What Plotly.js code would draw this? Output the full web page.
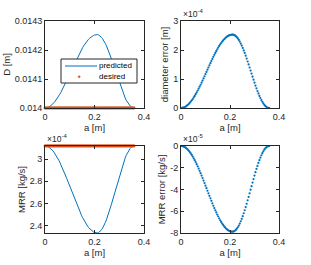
<!DOCTYPE html>
<html>
<head>
<meta charset="utf-8">
<script src="https://cdn.plot.ly/plotly-3.0.1.min.js"></script>
<style>html,body{margin:0;padding:0;background:#fff}#chart{width:311px;height:265px}</style>
</head>
<body>
<div id="chart"></div>
<script>
// position along workpiece a [m]
const a = [0,0.004,0.008,0.012,0.016,0.02,0.024,0.028,0.032,0.036,
0.04,0.044,0.048,0.052,0.056,0.06,0.064,0.068,0.072,0.076,
0.08,0.084,0.088,0.092,0.096,0.1,0.104,0.108,0.112,0.116,
0.12,0.124,0.128,0.132,0.136,0.14,0.144,0.148,0.152,0.156,
0.16,0.164,0.168,0.172,0.176,0.18,0.184,0.188,0.192,0.196,
0.2,0.204,0.208,0.212,0.216,0.22,0.224,0.228,0.232,0.236,
0.24,0.244,0.248,0.252,0.256,0.26,0.264,0.268,0.272,0.276,
0.28,0.284,0.288,0.292,0.296,0.3,0.304,0.308,0.312,0.316,
0.32,0.324,0.328,0.332,0.336,0.34,0.344,0.348,0.352,0.356,
0.36];

// predicted diameter D [m]
const predictedD = [0.014,0.0140003,0.014001,0.014002,0.0140035,0.0140056,0.0140081,0.0140109,0.0140142,0.014018,
0.014022,0.0140263,0.0140311,0.0140364,0.0140417,0.0140476,0.0140536,0.01406,0.0140665,0.0140734,
0.0140802,0.0140873,0.0140946,0.014102,0.0141095,0.0141171,0.0141245,0.0141321,0.0141397,0.0141472,
0.0141546,0.0141619,0.0141693,0.0141763,0.0141832,0.0141898,0.0141961,0.0142024,0.0142082,0.014214,
0.0142194,0.0142242,0.014229,0.014233,0.0142371,0.0142404,0.0142436,0.0142462,0.0142484,0.0142502,
0.0142515,0.0142525,0.014253,
0.014253,0.014252,0.0142502,0.0142477,0.0142441,0.0142398,0.0142348,0.014229,0.0142221,0.0142151,
0.0142072,0.0141986,0.0141898,0.0141804,0.0141705,0.0141604,0.0141503,0.0141397,0.014129,0.0141187,
0.014108,0.0140977,0.0140873,0.0140774,0.0140678,0.0140587,0.0140501,0.0140417,0.0140344,0.0140273,
0.0140213,0.0140157,0.0140109,0.0140071,0.014004,0.0140018,0.0140005,0.014];

// desired diameter D [m]
const desiredD = [0.014,0.014,0.014,0.014,0.014,0.014,0.014,0.014,0.014,0.014,
0.014,0.014,0.014,0.014,0.014,0.014,0.014,0.014,0.014,0.014,
0.014,0.014,0.014,0.014,0.014,0.014,0.014,0.014,0.014,0.014,
0.014,0.014,0.014,0.014,0.014,0.014,0.014,0.014,0.014,0.014,
0.014,0.014,0.014,0.014,0.014,0.014,0.014,0.014,0.014,0.014,
0.014,0.014,0.014,0.014,0.014,0.014,0.014,0.014,0.014,0.014,
0.014,0.014,0.014,0.014,0.014,0.014,0.014,0.014,0.014,0.014,
0.014,0.014,0.014,0.014,0.014,0.014,0.014,0.014,0.014,0.014,
0.014,0.014,0.014,0.014,0.014,0.014,0.014,0.014,0.014,0.014,
0.014];

// diameter error [x1e-4 m]
const diameterError = [0,0.003,0.010,0.020,0.035,0.056,0.081,0.109,0.142,0.180,
0.220,0.263,0.311,0.364,0.417,0.476,0.536,0.600,0.665,0.734,
0.802,0.873,0.946,1.020,1.095,1.171,1.245,1.321,1.397,1.472,
1.546,1.619,1.693,1.763,1.832,1.898,1.961,2.024,2.082,2.140,
2.194,2.242,2.290,2.330,2.371,2.404,2.436,2.462,2.484,2.502,
2.515,2.525,2.530,
2.530,2.520,2.502,2.477,2.441,2.398,2.348,2.290,2.221,2.151,
2.072,1.986,1.898,1.804,1.705,1.604,1.503,1.397,1.290,1.187,
1.080,0.977,0.873,0.774,0.678,0.587,0.501,0.417,0.344,0.273,
0.213,0.157,0.109,0.071,0.040,0.018,0.005,0];

// predicted MRR [x1e-4 kg/s]
const predictedMRR = [3.12,3.1192,3.1168,3.1137,3.109,3.1027,3.0948,3.0861,3.0759,3.0641,
3.0514,3.038,3.0231,3.0065,2.99,2.9719,2.9529,2.9332,2.9128,2.8915,
2.8702,2.8481,2.8253,2.8024,2.7788,2.7552,2.7323,2.7087,2.685,2.6614,
2.6385,2.6157,2.5928,2.5708,2.5495,2.529,2.5093,2.4896,2.4715,2.4534,
2.4368,2.4218,2.4069,2.3943,2.3816,2.3714,2.3612,2.3533,2.3462,2.3407,
2.3367,2.3336,2.332,
2.332,2.3352,2.3407,2.3485,2.3596,2.373,2.3887,2.4069,2.4281,2.4502,
2.4746,2.5014,2.529,2.5582,2.5889,2.6204,2.6519,2.685,2.7181,2.7504,
2.7835,2.8158,2.8481,2.8789,2.9088,2.9372,2.964,2.99,3.0128,3.0349,
3.0538,3.0711,3.0861,3.0979,3.1074,3.1145,3.1184,3.12];

// desired MRR [x1e-4 kg/s]
const desiredMRR = [3.12,3.12,3.12,3.12,3.12,3.12,3.12,3.12,3.12,3.12,
3.12,3.12,3.12,3.12,3.12,3.12,3.12,3.12,3.12,3.12,
3.12,3.12,3.12,3.12,3.12,3.12,3.12,3.12,3.12,3.12,
3.12,3.12,3.12,3.12,3.12,3.12,3.12,3.12,3.12,3.12,
3.12,3.12,3.12,3.12,3.12,3.12,3.12,3.12,3.12,3.12,
3.12,3.12,3.12,3.12,3.12,3.12,3.12,3.12,3.12,3.12,
3.12,3.12,3.12,3.12,3.12,3.12,3.12,3.12,3.12,3.12,
3.12,3.12,3.12,3.12,3.12,3.12,3.12,3.12,3.12,3.12,
3.12,3.12,3.12,3.12,3.12,3.12,3.12,3.12,3.12,3.12,
3.12];

// MRR error [x1e-5 kg/s]
const mrrError = [0,-0.008,-0.032,-0.063,-0.110,-0.173,-0.252,-0.339,-0.441,-0.559,
-0.686,-0.820,-0.969,-1.135,-1.300,-1.481,-1.671,-1.868,-2.072,-2.285,
-2.498,-2.719,-2.947,-3.176,-3.412,-3.648,-3.877,-4.113,-4.350,-4.586,
-4.815,-5.043,-5.272,-5.492,-5.705,-5.910,-6.107,-6.304,-6.485,-6.666,
-6.832,-6.982,-7.131,-7.257,-7.384,-7.486,-7.588,-7.667,-7.738,-7.793,
-7.833,-7.864,-7.880,
-7.880,-7.848,-7.793,-7.715,-7.604,-7.470,-7.313,-7.131,-6.919,-6.698,
-6.454,-6.186,-5.910,-5.618,-5.311,-4.996,-4.681,-4.350,-4.019,-3.696,
-3.365,-3.042,-2.719,-2.411,-2.112,-1.828,-1.560,-1.300,-1.072,-0.851,
-0.662,-0.489,-0.339,-0.221,-0.126,-0.055,-0.016,0];

// tick labels
const aTicks = [0, 0.2, 0.4];
const aTickText = ['0', '0.2', '0.4'];
const dTicks = [0.014, 0.0141, 0.0142, 0.0143];
const dTickText = ['0.014', '0.0141', '0.0142', '0.0143'];
const dErrTicks = [0, 1, 2, 3];
const dErrTickText = ['0', '1', '2', '3'];
const mrrTicks = [2.4, 2.6, 2.8, 3];
const mrrTickText = ['2.4', '2.6', '2.8', '3'];
const mrrErrTicks = [-8, -6, -4, -2, 0];
const mrrErrTickText = ['-8', '-6', '-4', '-2', '0'];
const legendNames = ['predicted', 'desired'];

const BLUE = '#0072BD', ORANGE = '#D95319', AX = '#262626';
const FONT = 'Liberation Sans, Arial, sans-serif';

const traces = [
  {x: a, y: predictedD, xaxis: 'x', yaxis: 'y', mode: 'lines', name: legendNames[0],
   line: {color: BLUE, width: 1}},
  {x: a, y: desiredD, xaxis: 'x', yaxis: 'y', mode: 'markers', name: legendNames[1],
   marker: {color: ORANGE, size: 2.8}, cliponaxis: false},
  {x: a, y: diameterError, xaxis: 'x2', yaxis: 'y2', mode: 'markers', name: 'diameter error',
   marker: {color: BLUE, size: 2.2}, cliponaxis: false},
  {x: a, y: predictedMRR, xaxis: 'x3', yaxis: 'y3', mode: 'lines', name: 'predicted MRR',
   line: {color: BLUE, width: 1}},
  {x: a, y: desiredMRR, xaxis: 'x3', yaxis: 'y3', mode: 'markers', name: 'desired MRR',
   marker: {color: ORANGE, size: 2.8}, cliponaxis: false},
  {x: a, y: mrrError, xaxis: 'x4', yaxis: 'y4', mode: 'markers', name: 'MRR error',
   marker: {color: BLUE, size: 2.2}, cliponaxis: false}
];

function xax(domain, anchor) {
  return {domain: domain, anchor: anchor, range: [0, 0.4], tickvals: aTicks, ticktext: aTickText,
    ticks: 'inside', ticklen: 3, tickcolor: AX, showline: true, linecolor: AX, linewidth: 1,
    mirror: 'ticks', showgrid: false, zeroline: false, tickfont: {size: 9, color: AX},
    title: {text: 'a [m]', font: {size: 9.5, color: AX}, standoff: 3}};
}
function yax(domain, anchor, range, tv, tt, title) {
  return {domain: domain, anchor: anchor, range: range, tickvals: tv, ticktext: tt,
    ticks: 'inside', ticklen: 3, tickcolor: AX, showline: true, linecolor: AX, linewidth: 1,
    mirror: 'ticks', showgrid: false, zeroline: false, tickfont: {size: 9, color: AX},
    title: {text: title, font: {size: 9.5, color: AX}, standoff: 2}};
}

const W = 311, H = 265;
const px = v => v / W, py = v => 1 - v / H;
const XL = [px(45), px(144)], XR = [px(181), px(279)];
const YT = [py(108), py(21)], YB = [py(233), py(146)];

const expo = (x, y, t) => ({xref: 'paper', yref: 'paper', x: x, y: y, xanchor: 'left', yanchor: 'bottom',
  text: t, showarrow: false, font: {size: 8.5, color: AX, family: FONT}});
const legText = (x, y, t) => ({xref: 'paper', yref: 'paper', x: x, y: y, xanchor: 'left', yanchor: 'middle',
  text: t, showarrow: false, font: {size: 8, color: '#000', family: FONT}});

const layout = {
  width: W, height: H,
  margin: {l: 0, r: 0, t: 0, b: 0},
  paper_bgcolor: '#fff', plot_bgcolor: '#fff',
  font: {family: FONT, size: 9, color: AX},
  showlegend: false,
  xaxis: xax(XL, 'y'),
  yaxis: yax(YT, 'x', [0.014, 0.0143], dTicks, dTickText, 'D [m]'),
  xaxis2: xax(XR, 'y2'),
  yaxis2: yax(YT, 'x2', [0, 3], dErrTicks, dErrTickText, 'diameter error [m]'),
  xaxis3: xax(XL, 'y3'),
  yaxis3: yax(YB, 'x3', [2.332, 3.12], mrrTicks, mrrTickText, 'MRR [kg/s]'),
  xaxis4: xax(XR, 'y4'),
  yaxis4: yax(YB, 'x4', [-8, 0], mrrErrTicks, mrrErrTickText, 'MRR error [kg/s]'),
  shapes: [
    // legend box for the top-left axes
    {type: 'rect', xref: 'paper', yref: 'paper', x0: px(61), x1: px(137), y0: py(83), y1: py(59),
     fillcolor: '#fff', line: {color: AX, width: 1}, layer: 'above'},
    {type: 'line', xref: 'paper', yref: 'paper', x0: px(65), x1: px(97), y0: py(66), y1: py(66),
     line: {color: BLUE, width: 1}, layer: 'above'},
    {type: 'circle', xref: 'paper', yref: 'paper', x0: px(78.2), x1: px(80.2), y0: py(77.7), y1: py(75.7),
     fillcolor: ORANGE, line: {color: ORANGE, width: 0.5}, layer: 'above'}
  ],
  annotations: [
    expo(px(181), py(21), '×10<sup>-4</sup>'),
    expo(px(45), py(146), '×10<sup>-4</sup>'),
    expo(px(181), py(146), '×10<sup>-5</sup>'),
    legText(px(97), py(66), legendNames[0]),
    legText(px(97.5), py(76.7), legendNames[1])
  ]
};

Plotly.newPlot('chart', traces, layout, {staticPlot: true, displayModeBar: false});
</script>
</body>
</html>
